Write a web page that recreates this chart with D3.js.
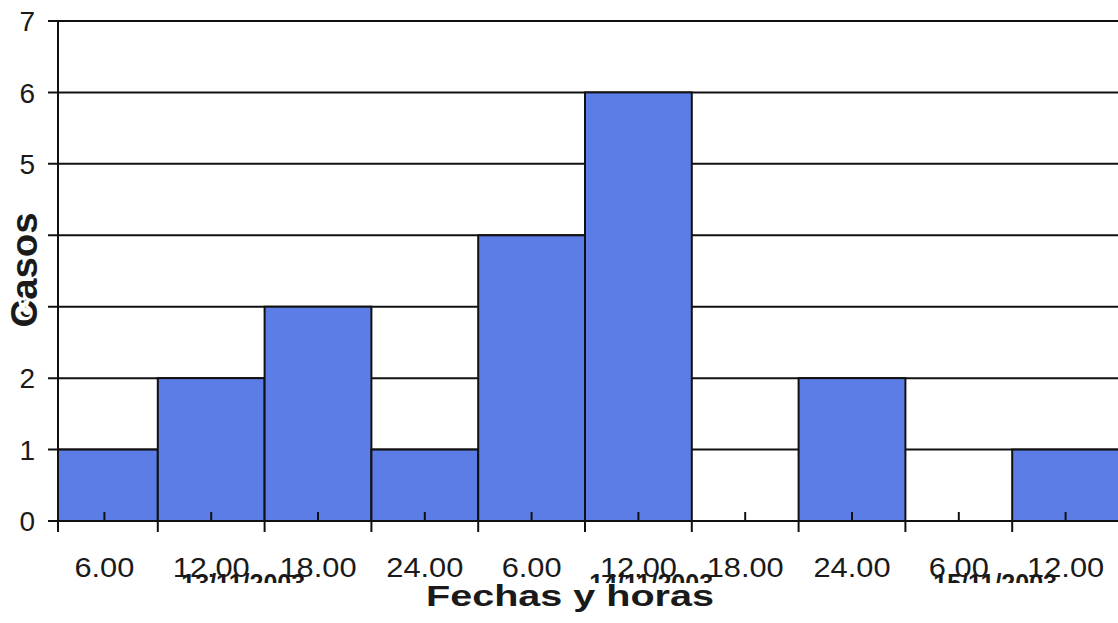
<!DOCTYPE html>
<html>
<head>
<meta charset="utf-8">
<script src="https://cdn.jsdelivr.net/npm/d3@7"></script>
<style>
  html, body { margin: 0; padding: 0; background: #fff; }
  svg { display: block; }
  text { font-family: "Liberation Sans", Arial, sans-serif; fill: #1a1a1a; }
</style>
</head>
<body>
<svg id="chart" width="1118" height="623"></svg>
<script>
// Casos por intervalo de 6 horas
const horas = ["6.00", "12.00", "18.00", "24.00", "6.00", "12.00", "18.00", "24.00", "6.00", "12.00"];
const casos = [1, 2, 3, 1, 4, 6, 0, 2, 0, 1];
const yTicks = [0, 1, 2, 3, 4, 5, 6, 7];
// Fechas, con su posición expresada en intervalos desde el inicio del eje
const fechas = ["13/11/2003", "14/11/2003", "15/11/2003"];
const fechaPos = [1.8, 5.62, 8.84];

const svg = d3.select("#chart");
const W = 1118, H = 623;
const plotLeft = 58, plotRight = 1118, plotTop = 21, plotBottom = 521;

const idx = d3.range(casos.length);
const x = d3.scaleBand().domain(idx).range([51, 1119]).paddingInner(0).paddingOuter(0);
const xLin = d3.scaleLinear().domain([0, casos.length]).range([51, 1119]);
const y = d3.scaleLinear().domain([0, 7]).range([plotBottom, plotTop]);
const cx = i => x(i) + x.bandwidth() / 2;

const defs = svg.append("defs");
defs.append("clipPath").attr("id", "plot")
  .append("rect").attr("x", plotLeft).attr("y", 0).attr("width", plotRight - plotLeft + 10).attr("height", plotBottom + 1);
defs.append("clipPath").attr("id", "dates")
  .append("rect").attr("x", 0).attr("y", 0).attr("width", W).attr("height", 583);

// Líneas de división horizontales
svg.append("g").selectAll("line").data(yTicks).join("line")
  .attr("x1", 48).attr("x2", W)
  .attr("y1", d => y(d)).attr("y2", d => y(d))
  .attr("stroke", "#111").attr("stroke-width", 2);

// Barras
svg.append("g").attr("clip-path", "url(#plot)")
  .selectAll("rect").data(idx.filter(i => casos[i] > 0)).join("rect")
  .attr("x", i => x(i)).attr("width", x.bandwidth())
  .attr("y", i => y(casos[i])).attr("height", i => y(0) - y(casos[i]))
  .attr("fill", "#5d7de6").attr("stroke", "#111").attr("stroke-width", 2);

// Eje Y
svg.append("line").attr("x1", plotLeft).attr("x2", plotLeft).attr("y1", y(7)).attr("y2", 532)
  .attr("stroke", "#111").attr("stroke-width", 2);
svg.append("g").selectAll("text").data(yTicks).join("text")
  .attr("x", 35).attr("y", d => y(d)).attr("dy", "0.36em")
  .attr("text-anchor", "end").attr("font-size", 28).text(d => d);

// Eje X: línea base, marcas largas en los límites y cortas en el centro
svg.append("line").attr("x1", plotLeft).attr("x2", W).attr("y1", plotBottom).attr("y2", plotBottom)
  .attr("stroke", "#111").attr("stroke-width", 2);
const bounds = [plotLeft].concat(idx.slice(1).map(i => x(i)));
svg.append("g").selectAll("line").data(bounds).join("line")
  .attr("x1", d => d).attr("x2", d => d).attr("y1", plotBottom).attr("y2", 532)
  .attr("stroke", "#111").attr("stroke-width", 2);
svg.append("g").selectAll("line").data(idx).join("line")
  .attr("x1", cx).attr("x2", cx)
  .attr("y1", plotBottom).attr("y2", 512)
  .attr("stroke", "#111").attr("stroke-width", 2);

svg.append("g").selectAll("text").data(idx).join("text")
  .attr("x", 0).attr("y", 577)
  .attr("text-anchor", "middle").attr("font-size", 28)
  .attr("transform", i => `translate(${cx(i)},0) scale(1.1,1)`)
  .text(i => horas[i]);

svg.append("g").attr("clip-path", "url(#dates)")
  .selectAll("text").data(fechas).join("text")
  .attr("x", (d, i) => xLin(fechaPos[i])).attr("y", 592)
  .attr("text-anchor", "middle").attr("font-size", 25).attr("font-weight", "bold")
  .text(d => d);

// Títulos de los ejes
svg.append("text").attr("x", 570).attr("y", 606)
  .attr("text-anchor", "middle").attr("font-size", 30).attr("font-weight", "bold")
  .attr("textLength", 288).attr("lengthAdjust", "spacingAndGlyphs")
  .text("Fechas y horas");

svg.append("text").attr("transform", "translate(37,270) rotate(-90)")
  .attr("text-anchor", "middle").attr("font-size", 37).attr("font-weight", "bold")
  .attr("textLength", 115).attr("lengthAdjust", "spacingAndGlyphs")
  .attr("stroke", "#fff").attr("stroke-width", 5).attr("paint-order", "stroke")
  .text("Casos");
</script>
</body>
</html>
